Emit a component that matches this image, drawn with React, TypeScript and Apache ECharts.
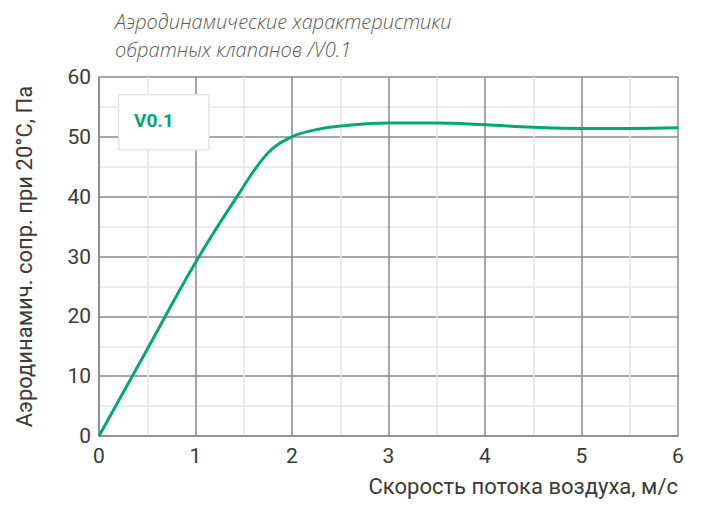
import React, { useEffect, useRef } from "react";
import * as echarts from "echarts";

const seriesName = "V0.1";
const speed = [0, 0.5, 1, 1.43, 1.75, 2, 2.25, 2.5, 3, 3.5, 4, 4.5, 5, 5.5, 6];
const pressure = [0, 14.5, 29, 40, 47.3, 50, 51.2, 51.8, 52.3, 52.3, 52, 51.6, 51.4, 51.4, 51.5];
const titleLines = ["Аэродинамические характеристики", "обратных клапанов /V0.1"];
const xName = "Скорость потока воздуха, м/с";
const yName = "Аэродинамич. сопр. при 20°С, Па";

export default function App() {
  const ref = useRef<HTMLDivElement>(null);
  useEffect(() => {
    if (!ref.current) return;
    const chart = echarts.init(ref.current, null, { renderer: "svg" });
    const labelStyle = { color: "#3a3a3a", fontSize: 21, fontFamily: "Roboto" };
    chart.setOption({
      animation: false,
      backgroundColor: "#ffffff",
      title: {
        text: titleLines.join("\n"),
        left: 110,
        top: 2,
        textStyle: {
          color: "#5a5a5a",
          fontSize: 20,
          fontStyle: "italic",
          fontWeight: 300,
          fontFamily: "Open Sans",
          lineHeight: 28,
        },
      },
      grid: { left: 99, right: 40, top: 77, bottom: 89 },
      xAxis: {
        type: "value",
        min: 0,
        max: 6,
        interval: 1,
        name: xName,
        nameLocation: "end",
        nameGap: 0,
        nameTextStyle: { ...labelStyle, fontSize: 22, align: "right", verticalAlign: "top", padding: [39, 0, 0, 0] },
        axisLine: { show: true, lineStyle: { color: "#8a8a8a", width: 1.5 } },
        axisTick: { show: false },
        axisLabel: { ...labelStyle, margin: 9 },
        splitLine: { show: true, lineStyle: { color: "#8a8a8a", width: 1.5 } },
        minorTick: { show: false, splitNumber: 2 },
        minorSplitLine: { show: true, lineStyle: { color: "#e6e6e6", width: 1.5 } },
      },
      yAxis: {
        type: "value",
        min: 0,
        max: 60,
        interval: 10,
        name: yName,
        nameLocation: "middle",
        nameGap: 64,
        nameTextStyle: { ...labelStyle, fontSize: 22 },
        axisLine: { show: true, lineStyle: { color: "#8a8a8a", width: 1.5 } },
        axisTick: { show: false },
        axisLabel: { ...labelStyle, margin: 8 },
        splitLine: { show: true, lineStyle: { color: "#8a8a8a", width: 1.5 } },
        minorTick: { show: false, splitNumber: 2 },
        minorSplitLine: { show: true, lineStyle: { color: "#e6e6e6", width: 1.5 } },
      },
      graphic: [
        {
          type: "rect",
          left: 118,
          top: 94,
          shape: { width: 90, height: 55 },
          style: { fill: "#ffffff", stroke: "#e6e6e6", lineWidth: 1.5 },
          z: 10,
        },
        {
          type: "text",
          left: 134,
          top: 111,
          style: { text: seriesName, fill: "#00a878", fontSize: 19, fontWeight: "bold", fontFamily: "Roboto" },
          z: 11,
        },
      ],
      series: [
        {
          name: seriesName,
          type: "line",
          data: speed.map((s, i) => [s, pressure[i]]),
          smooth: 0.4,
          showSymbol: false,
          lineStyle: { color: "#00a878", width: 3 },
        },
      ],
    });
    return () => chart.dispose();
  }, []);
  return <div ref={ref} style={{ width: 718, height: 525, marginLeft: -8, marginTop: -8 }} />;
}
